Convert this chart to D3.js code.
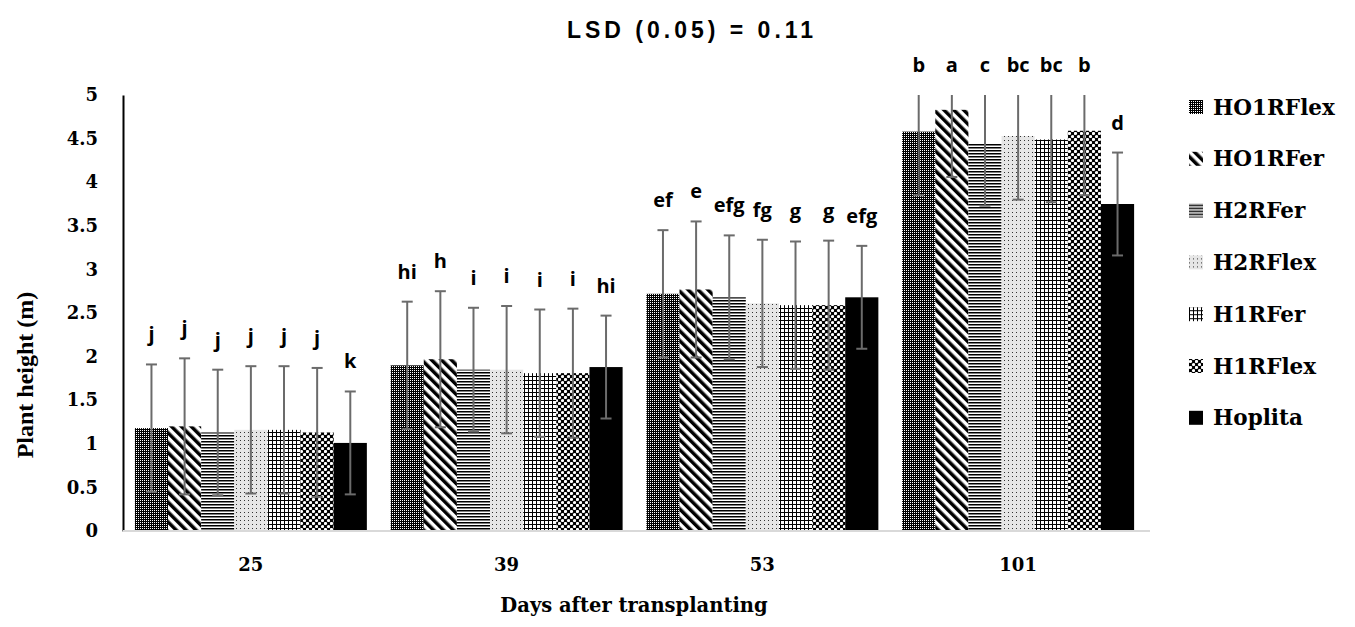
<!DOCTYPE html>
<html>
<head>
<meta charset="utf-8">
<script src="https://cdn.jsdelivr.net/npm/d3@7"></script>
<style>
  body { margin: 0; background: #fff; }
</style>
</head>
<body>
<svg id="chart"></svg>
<script>
// Categories and series
const days = ["25", "39", "53", "101"];
const treatments = ["HO1RFlex", "HO1RFer", "H2RFer", "H2RFlex", "H1RFer", "H1RFlex", "Hoplita"];

// Plant height (m) per day, in treatment order
const height25 = [1.18, 1.20, 1.13, 1.16, 1.16, 1.13, 1.01];
const height39 = [1.90, 1.97, 1.85, 1.85, 1.81, 1.81, 1.88];
const height53 = [2.72, 2.77, 2.68, 2.61, 2.59, 2.59, 2.68];
const height101 = [4.58, 4.83, 4.44, 4.53, 4.49, 4.59, 3.75];

// Error bar half-lengths
const err25 = [0.73, 0.78, 0.72, 0.73, 0.73, 0.74, 0.59];
const err39 = [0.73, 0.78, 0.71, 0.73, 0.73, 0.74, 0.59];
const err53 = [0.73, 0.78, 0.71, 0.73, 0.73, 0.74, 0.59];
const err101 = [0.73, 0.77, 0.71, 0.73, 0.72, 0.74, 0.59];

// Mean separation letters
const letters25 = ["j", "j", "j", "j", "j", "j", "k"];
const letters39 = ["hi", "h", "i", "i", "i", "i", "hi"];
const letters53 = ["ef", "e", "efg", "fg", "g", "g", "efg"];
const letters101 = ["b", "a", "c", "bc", "bc", "b", "d"];

const yTicks = [0, 0.5, 1, 1.5, 2, 2.5, 3, 3.5, 4, 4.5, 5];

const heights = [height25, height39, height53, height101];
const errs = [err25, err39, err53, err101];
const letters = [letters25, letters39, letters53, letters101];

// flatten into one record per bar
const bars = [];
days.forEach((day, i) => {
    treatments.forEach((t, j) => {
        bars.push({ day: day, treatment: t, value: heights[i][j], err: errs[i][j], letter: letters[i][j] });
    });
});

const width = 1355, height = 627;
const svg = d3.select("#chart")
    .attr("width", width)
    .attr("height", height);

const plotLeft = 123, plotRight = 1146, plotTop = 95, plotBottom = 531;

// Patterns for each treatment
const defs = svg.append("defs");

function pattern(id, w, h) {
    return defs.append("pattern")
        .attr("id", id)
        .attr("patternUnits", "userSpaceOnUse")
        .attr("width", w)
        .attr("height", h);
}

// dense dots on black
let p = pattern("p0", 2, 2);
p.append("rect").attr("width", 2).attr("height", 2).attr("fill", "#000");
p.append("rect").attr("width", 1).attr("height", 1).attr("fill", "#fff");

// wide downward diagonal
p = pattern("p1", 7, 7).attr("patternTransform", "rotate(-45)");
p.append("rect").attr("width", 7).attr("height", 7).attr("fill", "#fff");
p.append("rect").attr("width", 3.5).attr("height", 7).attr("fill", "#000");

// narrow horizontal
p = pattern("p2", 3, 3);
p.append("rect").attr("width", 3).attr("height", 3).attr("fill", "#fff");
p.append("rect").attr("width", 3).attr("height", 1.5).attr("fill", "#000");

// light dotted
p = pattern("p3", 4, 4);
p.append("rect").attr("width", 4).attr("height", 4).attr("fill", "#e6e6e6");
p.append("rect").attr("width", 1).attr("height", 1).attr("fill", "#333");

// small grid
p = pattern("p4", 4, 4);
p.append("rect").attr("width", 4).attr("height", 4).attr("fill", "#fff");
p.append("rect").attr("width", 4).attr("height", 1).attr("fill", "#000");
p.append("rect").attr("width", 1).attr("height", 4).attr("fill", "#000");

// sphere-like
p = pattern("p5", 6, 6);
p.append("rect").attr("width", 6).attr("height", 6).attr("fill", "#000");
p.append("circle").attr("cx", 1.5).attr("cy", 1.5).attr("r", 1.6).attr("fill", "#fff");
p.append("circle").attr("cx", 4.5).attr("cy", 4.5).attr("r", 1.6).attr("fill", "#fff");

const fills = ["url(#p0)", "url(#p1)", "url(#p2)", "url(#p3)", "url(#p4)", "url(#p5)", "#000"];
const color = d3.scaleOrdinal().domain(treatments).range(fills);

// Scales
const x0 = d3.scaleBand()
    .domain(days)
    .range([plotLeft, plotRight])
    .paddingInner(0.093)
    .paddingOuter(0.0465);

const x1 = d3.scaleBand()
    .domain(treatments)
    .range([0, x0.bandwidth()]);

const y = d3.scaleLinear()
    .domain([0, 5])
    .range([plotBottom, plotTop]);

defs.append("clipPath").attr("id", "plotClip")
    .append("rect")
    .attr("x", plotLeft).attr("y", plotTop)
    .attr("width", width - plotLeft).attr("height", plotBottom - plotTop);

// Bars
svg.append("g")
    .selectAll("rect")
    .data(bars)
    .join("rect")
    .attr("x", d => x0(d.day) + x1(d.treatment))
    .attr("y", d => y(d.value))
    .attr("width", x1.bandwidth())
    .attr("height", d => y(0) - y(d.value))
    .attr("fill", d => color(d.treatment));

// Error bars (clipped at the top of the axis)
const eg = svg.append("g")
    .attr("clip-path", "url(#plotClip)")
    .attr("stroke", "#6b6b6b")
    .attr("stroke-width", 2);

const cx = d => x0(d.day) + x1(d.treatment) + x1.bandwidth() / 2;

eg.selectAll("line.v")
    .data(bars)
    .join("line")
    .attr("class", "v")
    .attr("x1", cx).attr("x2", cx)
    .attr("y1", d => y(d.value + d.err))
    .attr("y2", d => y(d.value - d.err));

eg.selectAll("line.top")
    .data(bars)
    .join("line")
    .attr("class", "top")
    .attr("x1", d => cx(d) - 5.5).attr("x2", d => cx(d) + 5.5)
    .attr("y1", d => y(d.value + d.err))
    .attr("y2", d => y(d.value + d.err));

eg.selectAll("line.bot")
    .data(bars)
    .join("line")
    .attr("class", "bot")
    .attr("x1", d => cx(d) - 5.5).attr("x2", d => cx(d) + 5.5)
    .attr("y1", d => y(d.value - d.err))
    .attr("y2", d => y(d.value - d.err));

// Letters above error bars
svg.append("g")
    .selectAll("text")
    .data(bars)
    .join("text")
    .attr("x", cx)
    .attr("y", d => Math.max(y(d.value + d.err), plotTop) - 23)
    .attr("text-anchor", "middle")
    .style("font-family", "'Open Sans', sans-serif")
    .style("font-weight", "bold")
    .style("font-size", "20px")
    .text(d => d.letter);

// Axes
const yAxis = svg.append("g")
    .attr("transform", `translate(${plotLeft},0)`)
    .call(d3.axisLeft(y).tickValues(yTicks).tickFormat(d => String(d)).tickSize(0).tickPadding(25));
yAxis.select(".domain").attr("stroke", "#000").attr("stroke-width", 2);
yAxis.selectAll("text")
    .style("font-family", "'DejaVu Serif', serif")
    .style("font-weight", "bold")
    .style("font-size", "18px")
    .attr("fill", "#000");

const xAxis = svg.append("g")
    .attr("transform", `translate(0,${plotBottom})`)
    .call(d3.axisBottom(x0).tickSize(0).tickPadding(27));
xAxis.select(".domain").attr("stroke", "#d9d9d9").attr("stroke-width", 2)
    .attr("d", `M${plotLeft},0H${plotRight + 4}`);
xAxis.selectAll("text")
    .style("font-family", "'DejaVu Serif', serif")
    .style("font-weight", "bold")
    .style("font-size", "18px")
    .attr("fill", "#000");

// Titles
svg.append("text")
    .attr("x", 692)
    .attr("y", 38)
    .attr("text-anchor", "middle")
    .style("font-family", "'Liberation Sans', Arial, sans-serif")
    .style("font-weight", "bold")
    .style("font-size", "23px")
    .style("letter-spacing", "4px")
    .text("LSD (0.05) = 0.11");

svg.append("text")
    .attr("x", 634)
    .attr("y", 612)
    .attr("text-anchor", "middle")
    .style("font-family", "'DejaVu Serif', serif")
    .style("font-weight", "bold")
    .style("font-size", "19.5px")
    .text("Days after transplanting");

svg.append("text")
    .attr("transform", "translate(33,375) rotate(-90)")
    .attr("text-anchor", "middle")
    .style("font-family", "'Liberation Serif', serif")
    .style("font-weight", "bold")
    .style("font-size", "24px")
    .text("Plant height (m)");

// Legend
const legend = svg.append("g")
    .selectAll("g")
    .data(treatments)
    .join("g")
    .attr("transform", (d, i) => `translate(1189,${107 + i * 51.8})`);

legend.append("rect")
    .attr("x", 0).attr("y", -7)
    .attr("width", 14).attr("height", 14)
    .attr("fill", d => color(d));

legend.append("text")
    .attr("x", 24)
    .attr("y", 7.5)
    .style("font-family", "'DejaVu Serif', serif")
    .style("font-weight", "bold")
    .style("font-size", "21.5px")
    .text(d => d);
</script>
</body>
</html>
